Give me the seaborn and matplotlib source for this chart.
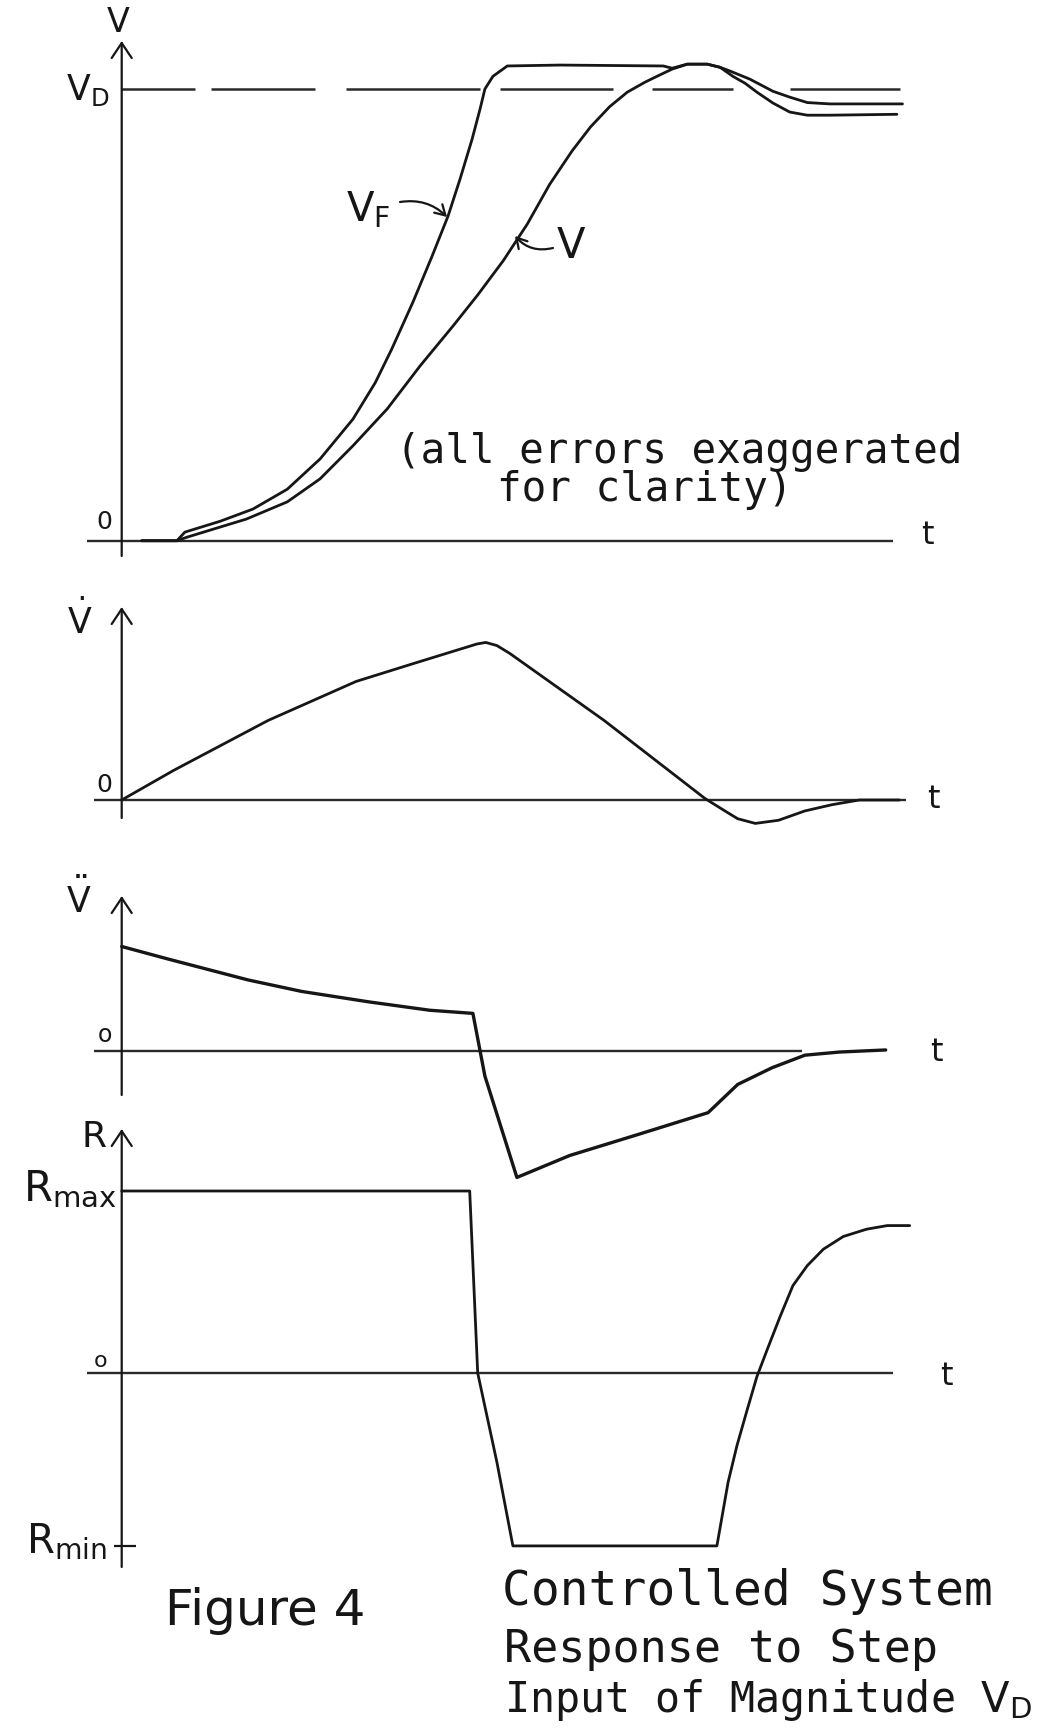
import matplotlib
matplotlib.use("Agg")
import matplotlib.pyplot as plt
import seaborn as sns

# ---------------- data (t in arbitrary time units) ----------------
# Panel 1: V_F and V  (V_D = 1)
vf_t = [0.25, 0.69, 0.79, 1.23, 1.64, 2.07, 2.48, 2.89, 3.17, 3.375, 3.64, 3.88, 4.08, 4.23,
        4.38, 4.48, 4.54, 4.64, 4.82, 5.48, 6.77, 6.88, 7.07, 7.32, 7.48, 7.64,
        7.79, 7.94, 8.14, 8.35, 8.57, 8.85, 9.69]
vf_v = [0.0, 0.0, 0.019, 0.043, 0.070, 0.114, 0.181, 0.269, 0.350, 0.424, 0.528, 0.630, 0.719, 0.801,
        0.889, 0.956, 1.0, 1.028, 1.051, 1.053, 1.051, 1.046, 1.055, 1.055, 1.048, 1.028,
        1.013, 0.993, 0.969, 0.949, 0.942, 0.942, 0.944]
v_t = [0.25, 0.69, 0.82, 1.56, 2.07, 2.48, 2.89, 3.32, 3.73, 4.14, 4.45, 4.77, 5.07, 5.35, 5.63,
       5.86, 6.10, 6.32, 6.54, 6.69, 6.88, 7.07, 7.32, 7.48, 7.60, 7.85, 8.14, 8.35, 8.57, 8.85, 9.76]
v_v = [0.0, 0.0, 0.008, 0.048, 0.086, 0.137, 0.210, 0.292, 0.387, 0.475, 0.544, 0.620, 0.701, 0.789,
       0.863, 0.916, 0.961, 0.993, 1.015, 1.028, 1.044, 1.055, 1.055, 1.048, 1.040, 1.022, 0.995,
       0.982, 0.970, 0.967, 0.967]
vd_level = 1.0
vd_dash_start = [-0.01, 1.12, 2.80, 4.73, 6.63, 8.35]
vd_dash_end = [0.92, 2.42, 4.48, 6.14, 7.64, 9.73]

# Panel 2: V dot
vdot_t = [0.0, 0.65, 1.83, 2.93, 3.68, 4.44, 4.55, 4.69, 4.85, 6.03, 7.29, 7.54, 7.70, 7.92,
          8.21, 8.54, 8.88, 9.22, 9.72]
vdot_v = [0.0, 0.19, 0.51, 0.76, 0.88, 1.0, 1.01, 0.99, 0.94, 0.51, 0.01, -0.07, -0.12, -0.15,
          -0.13, -0.07, -0.03, 0.0, 0.0]

# Panel 3: V double dot
vddot_t = [0.0, 0.58, 1.58, 2.25, 3.09, 3.85, 4.39, 4.54, 4.94, 5.60, 6.45, 7.33, 7.70, 8.13,
           8.54, 8.97, 9.55]
vddot_v = [1.0, 0.88, 0.68, 0.57, 0.47, 0.39, 0.36, -0.24, -1.21, -1.00, -0.80, -0.59, -0.32,
           -0.16, -0.04, -0.01, 0.01]

# Panel 4: R
r_t = [0.0, 4.35, 4.45, 4.69, 4.89, 7.44, 7.50, 7.58, 7.69, 7.82, 7.94, 8.07, 8.23, 8.39,
       8.57, 8.77, 9.02, 9.31, 9.57, 9.85]
r_v = [1.0, 1.0, 0.0, -0.49, -0.95, -0.95, -0.80, -0.60, -0.40, -0.20, -0.02, 0.13, 0.31, 0.48,
       0.59, 0.68, 0.75, 0.79, 0.81, 0.81]
r_max, r_min = 1.0, -0.95

# ---------------- layout ----------------
W, H = 1052, 1733
sns.set_theme(style="white")
plt.rcParams['font.family'] = ['DejaVu Sans']
plt.rcParams['mathtext.fontset'] = 'dejavusans'
INK = '#161616'
MONO = ['DejaVu Sans Mono']

fig = plt.figure(figsize=(W / 100, H / 100), dpi=100)
fig.patch.set_facecolor('white')

X0, XU = 121.7, 80.0           # pixel of t=0, pixels per t unit
xlim = (-X0 / XU, (W - X0) / XU)

def panel(zero_px, unit_px):
    ax = fig.add_axes([0, 0, 1, 1])
    ax.set_xlim(*xlim)
    ax.set_ylim((zero_px - H) / unit_px, zero_px / unit_px)
    ax.axis('off')
    return ax

def vy(zero_px, unit_px, ypx):
    return (zero_px - ypx) / unit_px

def tx(xpx):
    return (xpx - X0) / XU

def ftext(xpx, ypx, s, size, ha='center', va='center', **kw):
    fig.text(xpx / W, 1 - ypx / H, s, fontsize=size, ha=ha, va=va, color=INK, **kw)

arrow_kw = dict(arrowstyle='->,head_length=0.9,head_width=0.6', color=INK, lw=1.6,
                shrinkA=0, shrinkB=0)

def y_axis(ax, cal, ybot, ytop):
    ax.annotate('', xy=(0, vy(*cal, ytop)), xytext=(0, vy(*cal, ybot)), arrowprops=arrow_kw)

def zero_line(ax, x1, x2):
    ax.hlines(0, tx(x1), tx(x2), color='#2a2a2a', lw=1.7)

# ---- Panel 1 ----
cal1 = (541.7, 451.7)
ax1 = panel(*cal1)
y_axis(ax1, cal1, 557, 42)
zero_line(ax1, 87, 893)
ax1.hlines([vd_level] * len(vd_dash_start), vd_dash_start, vd_dash_end, color='#2a2a2a', lw=1.8)
sns.lineplot(x=vf_t, y=vf_v, ax=ax1, color=INK, lw=2.0, sort=False, estimator=None)
sns.lineplot(x=v_t, y=v_v, ax=ax1, color=INK, lw=2.0, sort=False, estimator=None)
ax1.annotate('', xy=(tx(447), vy(*cal1, 218)), xytext=(tx(400), vy(*cal1, 203)),
             arrowprops=dict(arrowstyle='->,head_length=0.6,head_width=0.35', color=INK, lw=1.6,
                             connectionstyle='arc3,rad=-0.25', shrinkA=0, shrinkB=0))
ax1.annotate('', xy=(tx(515), vy(*cal1, 237)), xytext=(tx(553), vy(*cal1, 249)),
             arrowprops=dict(arrowstyle='->,head_length=0.6,head_width=0.35', color=INK, lw=1.6,
                             connectionstyle='arc3,rad=-0.3', shrinkA=0, shrinkB=0))
ftext(118, 22, 'V', 24)
ftext(88, 90, r'$\mathrm{V_D}$', 25)
ftext(104, 522, '0', 18)
ftext(927, 535, 't', 23)
ftext(346, 221, r'$\mathrm{V_F}$', 29, ha='left', va='baseline')
ftext(571, 258, 'V', 30, va='baseline')
ftext(396, 463, '(all errors exaggerated', 29.5, ha='left', va='baseline', family=MONO)
ftext(497, 501, 'for clarity)', 29.5, ha='left', va='baseline', family=MONO)

# ---- Panel 2 ----
cal2 = (801.0, 156.0)
ax2 = panel(*cal2)
y_axis(ax2, cal2, 819, 608)
zero_line(ax2, 94, 906)
sns.lineplot(x=vdot_t, y=vdot_v, ax=ax2, color=INK, lw=2.0, sort=False, estimator=None)
ftext(80, 620, r'$\dot{\mathrm{V}}$', 25)
ftext(104, 785, '0', 18)
ftext(933, 799, 't', 23)

# ---- Panel 3 ----
cal3 = (1052.0, 104.5)
ax3 = panel(*cal3)
y_axis(ax3, cal3, 1096, 897)
zero_line(ax3, 94, 802)
sns.lineplot(x=vddot_t, y=vddot_v, ax=ax3, color=INK, lw=2.4, sort=False, estimator=None)
ftext(79, 899, r'$\ddot{\mathrm{V}}$', 25)
ftext(105, 1035, 'o', 17)
ftext(936, 1053, 't', 23)

# ---- Panel 4 ----
cal4 = (1374.0, 182.0)
ax4 = panel(*cal4)
y_axis(ax4, cal4, 1568, 1130)
zero_line(ax4, 87, 893)
ax4.hlines(r_min, tx(114), tx(136), color=INK, lw=1.6)
sns.lineplot(x=r_t, y=r_v, ax=ax4, color=INK, lw=2.0, sort=False, estimator=None)
ftext(94, 1137, 'R', 26)
ftext(117, 1201, r'$\mathrm{R_{max}}$', 30, ha='right', va='baseline')
ftext(101, 1361, 'o', 16)
ftext(107, 1553, r'$\mathrm{R_{min}}$', 29, ha='right', va='baseline')
ftext(946, 1377, 't', 23)

# ---- captions ----
ftext(165, 1625, 'Figure 4', 36, ha='left', va='baseline')
ftext(502, 1605, 'Controlled System', 34.5, ha='left', va='baseline', family=MONO)
ftext(504, 1662, 'Response to Step', 32.5, ha='left', va='baseline', family=MONO)
ftext(504, 1712, r'Input of Magnitude $\mathrm{V_D}$', 30, ha='left', va='baseline', family=MONO)

fig.savefig('out.png', dpi=100, facecolor='white')
